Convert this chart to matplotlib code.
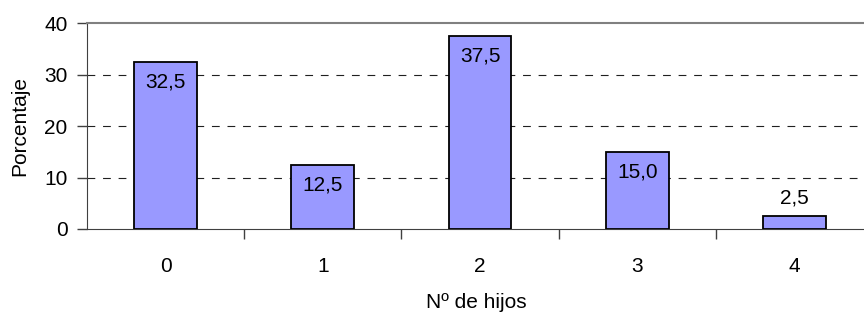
import matplotlib.pyplot as plt
import numpy as np

plt.rcParams['font.family'] = ['Liberation Sans', 'DejaVu Sans']

hijos = ['0', '1', '2', '3', '4']
porcentaje = [32.5, 12.5, 37.5, 15.0, 2.5]
etiquetas = ['32,5', '12,5', '37,5', '15,0', '2,5']

fig = plt.figure(figsize=(8.64, 3.2), dpi=100)
# plot area runs a little past the right edge of the image
ax = fig.add_axes([87 / 864, 91 / 320, 786 / 864, 205.7 / 320])

x = np.arange(len(hijos))
ax.bar(x, porcentaje, width=0.4, color='#9999FF', edgecolor='black',
       linewidth=1.3, zorder=3)

ax.set_xlim(-0.5, len(hijos) - 0.5)
ax.set_ylim(0, 40)
ax.set_yticks([0, 10, 20, 30, 40])
ax.tick_params(axis='y', length=7, width=1, color='#404040', labelsize=15, pad=7)

# category ticks sit between the bars
ax.set_xticks(x[:-1] + 0.5, minor=True)
ax.set_xticks(x)
ax.set_xticklabels(hijos)
ax.tick_params(axis='x', which='major', length=0, labelsize=15, pad=20)
ax.tick_params(axis='x', which='minor', length=7, width=1, color='#404040')

for v in [10, 20, 30]:
    ax.axhline(v, color='#202020', linestyle=(0, (7, 7)), linewidth=0.8, zorder=1)

ax.spines['top'].set_color('#808080')
ax.spines['top'].set_linewidth(1.5)
ax.spines['right'].set_visible(False)
ax.spines['left'].set_color('#404040')
ax.spines['bottom'].set_color('#404040')

for xi, v, t in zip(x, porcentaje, etiquetas):
    if v >= 10:
        ax.annotate(t, (xi, v), xytext=(0, -14.5), textcoords='offset points',
                    ha='center', va='center', fontsize=15, zorder=4)
    else:
        ax.annotate(t, (xi, v), xytext=(0, 13), textcoords='offset points',
                    ha='center', va='center', fontsize=15, zorder=4)

fig.text(20 / 864, 1 - 126 / 320, 'Porcentaje', rotation=90, ha='center',
         va='center', fontsize=15)
fig.text(476 / 864, 1 - 302 / 320, 'Nº de hijos', ha='center', va='center',
         fontsize=15)

fig.savefig('out.png', dpi=100)
